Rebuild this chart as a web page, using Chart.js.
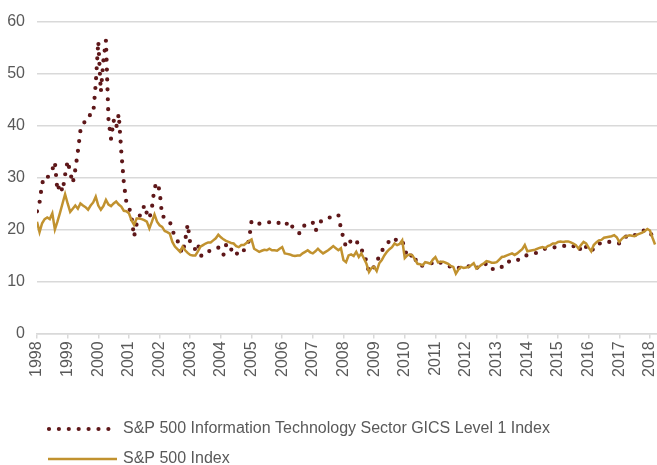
<!DOCTYPE html>
<html>
<head>
<meta charset="utf-8">
<script src="https://cdn.jsdelivr.net/npm/chart.js@4.4.1/dist/chart.umd.min.js"></script>
<style>
  html, body { margin: 0; padding: 0; background: #fff; }
</style>
</head>
<body>
<canvas id="pe" width="657" height="465"></canvas>
<script>
// monthly P/E readings, Jan 1998 - Mar 2018
var startYear = 1998;
var yearTicks = [1998, 1999, 2000, 2001, 2002, 2003, 2004, 2005, 2006, 2007, 2008,
                 2009, 2010, 2011, 2012, 2013, 2014, 2015, 2016, 2017, 2018];
var seriesNames = ['S&P 500 Information Technology Sector GICS Level 1 Index', 'S&P 500 Index'];

var techPE = [].concat(
  [23.5, 25.2, 28.8, 30.2, 30.0, 30.5, 31.5, 33.0, 27.4, 28.8, 27.3, 30.5], // 1998
  [33.2, 31.0, 28.9, 31.5, 35.0, 39.0, 40.3, 40.9, 42.0, 42.0, 42.2, 48.0], // 1999
  [56.2, 46.5, 52.5, 56.4, 41.0, 37.4, 41.0, 39.5, 42.2, 35.0, 29.0, 25.2], // 2000
  [24.3, 22.5, 18.6, 21.0, 22.6, 22.9, 24.7, 23.1, 22.1, 24.2, 28.0, 29.0], // 2001
  [27.5, 22.5, 22.4, 22.0, 21.5, 20.0, 18.5, 17.9, 16.3, 15.4, 17.8, 21.0], // 2002
  [17.3, 16.5, 16.2, 17.3, 15.0, 14.9, 15.5, 15.7, 16.0, 16.3, 16.5, 16.5], // 2003
  [16.3, 15.1, 17.0, 15.8, 16.1, 16.5, 15.5, 15.0, 15.6, 16.0, 16.5, 17.9], // 2004
  [21.6, 21.2, 21.0, 21.1, 21.2, 21.2, 21.3, 21.4, 21.5, 21.5, 21.5, 21.1], // 2005
  [20.8, 20.7, 21.2, 21.6, 20.5, 19.8, 19.5, 19.2, 20.2, 21.0, 21.2, 21.4], // 2006
  [21.3, 19.7, 20.5, 21.5, 21.8, 22.2, 22.3, 22.3, 22.3, 22.5, 22.8, 20.2], // 2007
  [18.3, 16.6, 17.2, 17.9, 18.0, 18.1, 16.5, 16.0, 15.7, 13.7, 11.8, 12.3], // 2008
  [12.8, 13.5, 15.0, 15.9, 16.5, 17.2, 17.8, 18.4, 18.2, 17.8, 17.7, 17.9], // 2009
  [16.2, 14.8, 14.5, 15.4, 14.5, 13.2, 13.1, 13.0, 13.2, 13.3, 13.4, 13.6], // 2010
  [13.9, 13.9, 13.6, 13.4, 13.2, 13.0, 12.8, 12.5, 12.4, 12.6, 12.6, 12.7], // 2011
  [12.8, 12.9, 13.1, 13.2, 12.8, 12.5, 12.9, 13.2, 13.4, 13.0, 12.3, 12.5], // 2012
  [12.8, 12.6, 12.8, 13.3, 13.9, 13.8, 13.7, 13.7, 14.0, 14.4, 14.9, 15.0], // 2013
  [15.0, 15.1, 15.2, 15.4, 15.6, 15.9, 16.1, 16.3, 16.3, 16.3, 16.5, 16.6], // 2014
  [16.6, 16.6, 16.8, 16.9, 17.1, 17.0, 16.8, 16.4, 15.8, 16.5, 17.2, 16.6], // 2015
  [16.0, 15.7, 16.4, 17.1, 17.3, 17.3, 17.5, 17.7, 17.6, 17.6, 17.5, 17.4], // 2016
  [17.3, 17.8, 18.3, 18.8, 18.7, 18.6, 18.9, 19.2, 19.5, 19.6, 19.9, 19.9], // 2017
  [19.5, 18.6, 18.1]                                                        // 2018
);

var spxPE = [].concat(
  [21.5, 19.5, 21.2, 22.0, 22.3, 22.0, 23.1, 20.0, 21.5, 23.2, 25.0, 26.8], // 1998
  [25.0, 23.4, 24.0, 24.6, 24.0, 25.0, 24.6, 24.3, 23.8, 24.6, 25.2, 26.3], // 1999
  [24.6, 23.8, 24.5, 25.7, 24.8, 24.5, 25.0, 25.4, 24.8, 24.4, 23.6, 23.5], // 2000
  [23.1, 21.8, 20.9, 22.1, 22.1, 22.0, 21.8, 21.5, 20.2, 21.5, 22.9, 21.5], // 2001
  [20.8, 20.5, 19.7, 19.5, 19.2, 17.6, 16.7, 16.2, 15.7, 16.7, 16.0, 15.5], // 2002
  [15.1, 15.0, 15.0, 15.8, 16.7, 17.0, 17.3, 17.5, 17.5, 17.9, 18.3, 19.0], // 2003
  [18.5, 18.1, 17.8, 17.6, 17.4, 17.3, 16.8, 16.6, 17.0, 17.0, 17.4, 17.8], // 2004
  [18.1, 16.3, 16.0, 15.7, 15.9, 16.1, 16.0, 16.3, 16.0, 16.0, 15.9, 16.3], // 2005
  [16.6, 15.4, 15.3, 15.2, 15.0, 14.9, 15.0, 15.0, 15.4, 15.7, 16.0, 15.6], // 2006
  [15.4, 15.8, 16.3, 15.8, 15.4, 15.7, 16.0, 16.4, 16.8, 16.4, 16.0, 16.4], // 2007
  [14.1, 13.7, 15.0, 15.2, 14.9, 15.7, 14.7, 15.4, 14.4, 13.4, 11.8, 12.6], // 2008
  [12.8, 12.0, 13.5, 14.1, 15.0, 15.7, 16.2, 16.6, 17.3, 17.0, 17.2, 17.9], // 2009
  [14.5, 15.0, 15.2, 15.0, 14.2, 13.4, 13.3, 13.1, 13.7, 13.6, 13.4, 14.2], // 2010
  [14.7, 13.7, 13.8, 13.8, 13.6, 13.4, 13.0, 12.8, 11.5, 12.3, 12.8, 12.6], // 2011
  [12.7, 12.8, 13.1, 13.5, 12.5, 12.8, 13.2, 13.5, 13.9, 13.8, 13.6, 13.6], // 2012
  [13.7, 14.2, 14.7, 14.8, 15.0, 15.2, 15.4, 15.1, 15.4, 15.8, 16.2, 17.0], // 2013
  [15.8, 15.9, 16.0, 16.1, 16.3, 16.5, 16.6, 16.4, 16.8, 17.0, 17.3, 17.3], // 2014
  [17.6, 17.7, 17.6, 17.7, 17.7, 17.5, 17.3, 17.0, 16.3, 17.0, 17.6, 17.3], // 2015
  [16.5, 15.8, 17.0, 17.5, 17.9, 18.0, 18.4, 18.5, 18.6, 18.7, 18.9, 18.5], // 2016
  [17.6, 18.2, 18.6, 18.7, 18.9, 18.8, 18.7, 19.0, 19.2, 19.4, 19.7, 20.1], // 2017
  [19.8, 18.4, 17.1]                                                        // 2018
);

function toPoints(values) {
  return values.map(function (v, i) {
    return { x: startYear + i / 12, y: v };
  });
}

var textColor = '#595959';
var gridColor = '#d9d9d9';
var fontFamily = '"Liberation Sans", Arial, sans-serif';

// legend drawn under the axis, one row per series, sample line uses the dataset's own style
var rowLegend = {
  id: 'rowLegend',
  afterDraw: function (chart) {
    var ctx = chart.ctx;
    var rows = [429, 459];
    var spans = [[49, 110], [48, 117]];
    chart.data.datasets.forEach(function (ds, i) {
      var y = rows[i];
      ctx.save();
      ctx.strokeStyle = ds.borderColor;
      ctx.lineWidth = ds.borderWidth;
      ctx.lineCap = ds.borderCapStyle || 'butt';
      ctx.setLineDash(ds.borderDash || []);
      ctx.beginPath();
      ctx.moveTo(spans[i][0], y);
      ctx.lineTo(spans[i][1], y);
      ctx.stroke();
      ctx.setLineDash([]);
      ctx.fillStyle = textColor;
      ctx.font = '16px ' + fontFamily;
      ctx.textBaseline = 'middle';
      ctx.fillText(ds.label, 123, y);
      ctx.restore();
    });
  }
};

var ctx = document.getElementById('pe').getContext('2d');
var peChart = new Chart(ctx, {
  type: 'line',
  data: {
    datasets: [{
      label: seriesNames[0],
      data: toPoints(techPE),
      borderColor: '#5E1719',
      borderWidth: 4.2,
      borderDash: [0, 9.9],
      borderCapStyle: 'round',
      pointRadius: 0,
      fill: false,
      order: 1
    }, {
      label: seriesNames[1],
      data: toPoints(spxPE),
      borderColor: '#C1922F',
      borderWidth: 2.5,
      pointRadius: 0,
      fill: false,
      order: 0
    }]
  },
  options: {
    responsive: false,
    devicePixelRatio: 1,
    animation: false,
    layout: { padding: { left: 0, right: 0, top: 8.5, bottom: 85 } },
    plugins: {
      legend: { display: false },
      tooltip: { enabled: false }
    },
    scales: {
      x: {
        type: 'linear',
        min: 1998,
        max: 2018.23,
        afterBuildTicks: function (axis) {
          axis.ticks = yearTicks.map(function (y) { return { value: y }; });
        },
        afterFit: function (axis) {
          // let the plot run to the right edge
          axis.paddingLeft = 0;
          axis.paddingRight = 0;
        },
        ticks: {
          autoSkip: false,
          minRotation: 90,
          maxRotation: 90,
          padding: 3,
          color: textColor,
          font: { family: fontFamily, size: 16 },
          callback: function (v) { return String(v); }
        },
        grid: { drawOnChartArea: false, drawTicks: true, tickLength: 5, color: gridColor, lineWidth: 1.5 },
        border: { color: gridColor, width: 1.5 }
      },
      y: {
        min: 0,
        max: 60,
        afterFit: function (axis) {
          axis.width = 37;
        },
        ticks: {
          stepSize: 10,
          padding: 12,
          color: textColor,
          font: { family: fontFamily, size: 16 }
        },
        grid: { color: gridColor, lineWidth: 1.5, drawTicks: false },
        border: { display: false }
      }
    }
  },
  plugins: [rowLegend]
});
</script>
</body>
</html>
